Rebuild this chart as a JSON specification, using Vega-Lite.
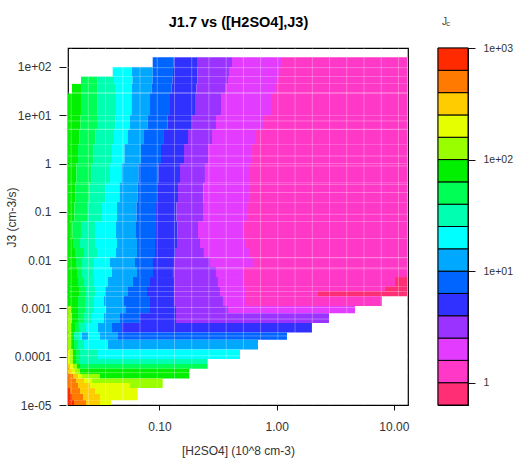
{
"$schema": "https://vega.github.io/schema/vega-lite/v6.json",
"background": "white",
"padding": {"left": 4, "top": 13, "right": 4, "bottom": 2},
"bounds": "flush",
"spacing": 30,
"config": {
 "view": {"stroke": "black", "strokeWidth": 1.2},
 "axis": {"labelFont": "Liberation Sans", "titleFont": "Liberation Sans", "labelColor": "#333", "titleColor": "#333", "tickColor": "#111", "domain": false, "grid": false, "labelFontSize": 12, "titleFontSize": 12, "titleFontWeight": "normal"}
},
"datasets": {
"cells": [
{"y0":100,"y1":158.5,"x0":0.0875,"x1":0.1316,"Jc":7.9},
{"y0":100,"y1":158.5,"x0":0.1316,"x1":0.2089,"Jc":5},
{"y0":100,"y1":158.5,"x0":0.2089,"x1":0.4156,"Jc":3.16},
{"y0":100,"y1":158.5,"x0":0.4156,"x1":1.11,"Jc":2},
{"y0":100,"y1":158.5,"x0":1.11,"x1":12.94,"Jc":1.26},
{"y0":63.1,"y1":100,"x0":0.03988,"x1":0.05825,"Jc":20},
{"y0":63.1,"y1":100,"x0":0.05825,"x1":0.0875,"Jc":12.6},
{"y0":63.1,"y1":100,"x0":0.0875,"x1":0.1303,"Jc":7.9},
{"y0":63.1,"y1":100,"x0":0.1303,"x1":0.211,"Jc":5},
{"y0":63.1,"y1":100,"x0":0.211,"x1":0.3918,"Jc":3.16},
{"y0":63.1,"y1":100,"x0":0.3918,"x1":1.046,"Jc":2},
{"y0":63.1,"y1":100,"x0":1.046,"x1":12.94,"Jc":1.26},
{"y0":44.67,"y1":63.1,"x0":0.02138,"x1":0.02958,"Jc":50},
{"y0":44.67,"y1":63.1,"x0":0.02958,"x1":0.04091,"Jc":31.6},
{"y0":44.67,"y1":63.1,"x0":0.04091,"x1":0.05882,"Jc":20},
{"y0":44.67,"y1":63.1,"x0":0.05882,"x1":0.08715,"Jc":12.6},
{"y0":44.67,"y1":63.1,"x0":0.08715,"x1":0.1291,"Jc":7.9},
{"y0":44.67,"y1":63.1,"x0":0.1291,"x1":0.211,"Jc":5},
{"y0":44.67,"y1":63.1,"x0":0.211,"x1":0.3841,"Jc":3.16},
{"y0":44.67,"y1":63.1,"x0":0.3841,"x1":1.006,"Jc":2},
{"y0":44.67,"y1":63.1,"x0":1.006,"x1":12.94,"Jc":1.26},
{"y0":28.18,"y1":44.67,"x0":0.01792,"x1":0.02138,"Jc":79},
{"y0":28.18,"y1":44.67,"x0":0.02138,"x1":0.02958,"Jc":50},
{"y0":28.18,"y1":44.67,"x0":0.02958,"x1":0.04172,"Jc":31.6},
{"y0":28.18,"y1":44.67,"x0":0.04172,"x1":0.05825,"Jc":20},
{"y0":28.18,"y1":44.67,"x0":0.05825,"x1":0.08544,"Jc":12.6},
{"y0":28.18,"y1":44.67,"x0":0.08544,"x1":0.1266,"Jc":7.9},
{"y0":28.18,"y1":44.67,"x0":0.1266,"x1":0.2069,"Jc":5},
{"y0":28.18,"y1":44.67,"x0":0.2069,"x1":0.3621,"Jc":3.16},
{"y0":28.18,"y1":44.67,"x0":0.3621,"x1":0.9863,"Jc":2},
{"y0":28.18,"y1":44.67,"x0":0.9863,"x1":12.94,"Jc":1.26},
{"y0":10,"y1":28.18,"x0":0.01657,"x1":0.02138,"Jc":79},
{"y0":10,"y1":28.18,"x0":0.02138,"x1":0.02958,"Jc":50},
{"y0":10,"y1":28.18,"x0":0.02958,"x1":0.04254,"Jc":31.6},
{"y0":10,"y1":28.18,"x0":0.04254,"x1":0.05767,"Jc":20},
{"y0":10,"y1":28.18,"x0":0.05767,"x1":0.08296,"Jc":12.6},
{"y0":10,"y1":28.18,"x0":0.08296,"x1":0.1229,"Jc":7.9},
{"y0":10,"y1":28.18,"x0":0.1229,"x1":0.2009,"Jc":5},
{"y0":10,"y1":28.18,"x0":0.2009,"x1":0.3347,"Jc":3.16},
{"y0":10,"y1":28.18,"x0":0.3347,"x1":0.9118,"Jc":2},
{"y0":10,"y1":28.18,"x0":0.9118,"x1":12.94,"Jc":1.26},
{"y0":5.012,"y1":10,"x0":0.01657,"x1":0.02118,"Jc":79},
{"y0":5.012,"y1":10,"x0":0.02118,"x1":0.02929,"Jc":50},
{"y0":5.012,"y1":10,"x0":0.02929,"x1":0.04213,"Jc":31.6},
{"y0":5.012,"y1":10,"x0":0.04213,"x1":0.056,"Jc":20},
{"y0":5.012,"y1":10,"x0":0.056,"x1":0.07899,"Jc":12.6},
{"y0":5.012,"y1":10,"x0":0.07899,"x1":0.117,"Jc":7.9},
{"y0":5.012,"y1":10,"x0":0.117,"x1":0.1894,"Jc":5},
{"y0":5.012,"y1":10,"x0":0.1894,"x1":0.3034,"Jc":3.16},
{"y0":5.012,"y1":10,"x0":0.3034,"x1":0.7641,"Jc":2},
{"y0":5.012,"y1":10,"x0":0.7641,"x1":12.94,"Jc":1.26},
{"y0":2.512,"y1":5.012,"x0":0.01657,"x1":0.02076,"Jc":79},
{"y0":2.512,"y1":5.012,"x0":0.02076,"x1":0.02844,"Jc":50},
{"y0":2.512,"y1":5.012,"x0":0.02844,"x1":0.04091,"Jc":31.6},
{"y0":2.512,"y1":5.012,"x0":0.04091,"x1":0.05333,"Jc":20},
{"y0":2.512,"y1":5.012,"x0":0.05333,"x1":0.07375,"Jc":12.6},
{"y0":2.512,"y1":5.012,"x0":0.07375,"x1":0.1092,"Jc":7.9},
{"y0":2.512,"y1":5.012,"x0":0.1092,"x1":0.1751,"Jc":5},
{"y0":2.512,"y1":5.012,"x0":0.1751,"x1":0.2805,"Jc":3.16},
{"y0":2.512,"y1":5.012,"x0":0.2805,"x1":0.6659,"Jc":2},
{"y0":2.512,"y1":5.012,"x0":0.6659,"x1":12.94,"Jc":1.26},
{"y0":1,"y1":2.512,"x0":0.01657,"x1":0.02017,"Jc":79},
{"y0":1,"y1":2.512,"x0":0.02017,"x1":0.02734,"Jc":50},
{"y0":1,"y1":2.512,"x0":0.02734,"x1":0.03933,"Jc":31.6},
{"y0":1,"y1":2.512,"x0":0.03933,"x1":0.05027,"Jc":20},
{"y0":1,"y1":2.512,"x0":0.05027,"x1":0.06953,"Jc":12.6},
{"y0":1,"y1":2.512,"x0":0.06953,"x1":0.103,"Jc":7.9},
{"y0":1,"y1":2.512,"x0":0.103,"x1":0.1618,"Jc":5},
{"y0":1,"y1":2.512,"x0":0.1618,"x1":0.2594,"Jc":3.16},
{"y0":1,"y1":2.512,"x0":0.2594,"x1":0.6154,"Jc":2},
{"y0":1,"y1":2.512,"x0":0.6154,"x1":12.94,"Jc":1.26},
{"y0":0.3981,"y1":1,"x0":0.01657,"x1":0.01958,"Jc":79},
{"y0":0.3981,"y1":1,"x0":0.01958,"x1":0.02629,"Jc":50},
{"y0":0.3981,"y1":1,"x0":0.02629,"x1":0.03781,"Jc":31.6},
{"y0":0.3981,"y1":1,"x0":0.03781,"x1":0.0474,"Jc":20},
{"y0":0.3981,"y1":1,"x0":0.0474,"x1":0.06619,"Jc":12.6},
{"y0":0.3981,"y1":1,"x0":0.06619,"x1":0.09806,"Jc":7.9},
{"y0":0.3981,"y1":1,"x0":0.09806,"x1":0.1496,"Jc":5},
{"y0":0.3981,"y1":1,"x0":0.1496,"x1":0.2444,"Jc":3.16},
{"y0":0.3981,"y1":1,"x0":0.2444,"x1":0.5917,"Jc":2},
{"y0":0.3981,"y1":1,"x0":0.5917,"x1":12.94,"Jc":1.26},
{"y0":0.1585,"y1":0.3981,"x0":0.01657,"x1":0.0192,"Jc":79},
{"y0":0.1585,"y1":0.3981,"x0":0.0192,"x1":0.02527,"Jc":50},
{"y0":0.1585,"y1":0.3981,"x0":0.02527,"x1":0.03496,"Jc":31.6},
{"y0":0.1585,"y1":0.3981,"x0":0.03496,"x1":0.04558,"Jc":20},
{"y0":0.1585,"y1":0.3981,"x0":0.04558,"x1":0.06516,"Jc":12.6},
{"y0":0.1585,"y1":0.3981,"x0":0.06516,"x1":0.09521,"Jc":7.9},
{"y0":0.1585,"y1":0.3981,"x0":0.09521,"x1":0.1439,"Jc":5},
{"y0":0.1585,"y1":0.3981,"x0":0.1439,"x1":0.2373,"Jc":3.16},
{"y0":0.1585,"y1":0.3981,"x0":0.2373,"x1":0.5802,"Jc":2},
{"y0":0.1585,"y1":0.3981,"x0":0.5802,"x1":12.94,"Jc":1.26},
{"y0":0.0631,"y1":0.1585,"x0":0.01657,"x1":0.01882,"Jc":79},
{"y0":0.0631,"y1":0.1585,"x0":0.01882,"x1":0.02406,"Jc":50},
{"y0":0.0631,"y1":0.1585,"x0":0.02406,"x1":0.03231,"Jc":31.6},
{"y0":0.0631,"y1":0.1585,"x0":0.03231,"x1":0.04339,"Jc":20},
{"y0":0.0631,"y1":0.1585,"x0":0.04339,"x1":0.06365,"Jc":12.6},
{"y0":0.0631,"y1":0.1585,"x0":0.06365,"x1":0.09336,"Jc":7.9},
{"y0":0.0631,"y1":0.1585,"x0":0.09336,"x1":0.1397,"Jc":5},
{"y0":0.0631,"y1":0.1585,"x0":0.1397,"x1":0.235,"Jc":3.16},
{"y0":0.0631,"y1":0.1585,"x0":0.235,"x1":0.5579,"Jc":2},
{"y0":0.0631,"y1":0.1585,"x0":0.5579,"x1":12.94,"Jc":1.26},
{"y0":0.02818,"y1":0.0631,"x0":0.01657,"x1":0.0181,"Jc":79},
{"y0":0.02818,"y1":0.0631,"x0":0.0181,"x1":0.02138,"Jc":50},
{"y0":0.02818,"y1":0.0631,"x0":0.02138,"x1":0.02816,"Jc":31.6},
{"y0":0.02818,"y1":0.0631,"x0":0.02816,"x1":0.04254,"Jc":20},
{"y0":0.02818,"y1":0.0631,"x0":0.04254,"x1":0.06303,"Jc":12.6},
{"y0":0.02818,"y1":0.0631,"x0":0.06303,"x1":0.09336,"Jc":7.9},
{"y0":0.02818,"y1":0.0631,"x0":0.09336,"x1":0.1425,"Jc":5},
{"y0":0.02818,"y1":0.0631,"x0":0.1425,"x1":0.2131,"Jc":3.16},
{"y0":0.02818,"y1":0.0631,"x0":0.2131,"x1":0.516,"Jc":2},
{"y0":0.02818,"y1":0.0631,"x0":0.516,"x1":12.94,"Jc":1.26},
{"y0":0.01778,"y1":0.02818,"x0":0.01657,"x1":0.01827,"Jc":79},
{"y0":0.01778,"y1":0.02818,"x0":0.01827,"x1":0.02097,"Jc":50},
{"y0":0.01778,"y1":0.02818,"x0":0.02097,"x1":0.02816,"Jc":31.6},
{"y0":0.01778,"y1":0.02818,"x0":0.02816,"x1":0.04339,"Jc":20},
{"y0":0.01778,"y1":0.02818,"x0":0.04339,"x1":0.06427,"Jc":12.6},
{"y0":0.01778,"y1":0.02818,"x0":0.06427,"x1":0.09154,"Jc":7.9},
{"y0":0.01778,"y1":0.02818,"x0":0.09154,"x1":0.1411,"Jc":5},
{"y0":0.01778,"y1":0.02818,"x0":0.1411,"x1":0.2216,"Jc":3.16},
{"y0":0.01778,"y1":0.02818,"x0":0.2216,"x1":0.547,"Jc":2},
{"y0":0.01778,"y1":0.02818,"x0":0.547,"x1":12.94,"Jc":1.26},
{"y0":0.01122,"y1":0.01778,"x0":0.01657,"x1":0.01901,"Jc":79},
{"y0":0.01122,"y1":0.01778,"x0":0.01901,"x1":0.02268,"Jc":50},
{"y0":0.01122,"y1":0.01778,"x0":0.02268,"x1":0.02929,"Jc":31.6},
{"y0":0.01122,"y1":0.01778,"x0":0.02929,"x1":0.04254,"Jc":20},
{"y0":0.01122,"y1":0.01778,"x0":0.04254,"x1":0.06427,"Jc":12.6},
{"y0":0.01122,"y1":0.01778,"x0":0.06427,"x1":0.09154,"Jc":7.9},
{"y0":0.01122,"y1":0.01778,"x0":0.09154,"x1":0.1356,"Jc":5},
{"y0":0.01122,"y1":0.01778,"x0":0.1356,"x1":0.2396,"Jc":3.16},
{"y0":0.01122,"y1":0.01778,"x0":0.2396,"x1":0.5917,"Jc":2},
{"y0":0.01122,"y1":0.01778,"x0":0.5917,"x1":12.94,"Jc":1.26},
{"y0":0.007079,"y1":0.01122,"x0":0.01657,"x1":0.01939,"Jc":79},
{"y0":0.007079,"y1":0.01122,"x0":0.01939,"x1":0.02181,"Jc":50},
{"y0":0.007079,"y1":0.01122,"x0":0.02181,"x1":0.02761,"Jc":31.6},
{"y0":0.007079,"y1":0.01122,"x0":0.02761,"x1":0.03781,"Jc":20},
{"y0":0.007079,"y1":0.01122,"x0":0.03781,"x1":0.0618,"Jc":12.6},
{"y0":0.007079,"y1":0.01122,"x0":0.0618,"x1":0.088,"Jc":7.9},
{"y0":0.007079,"y1":0.01122,"x0":0.088,"x1":0.1329,"Jc":5},
{"y0":0.007079,"y1":0.01122,"x0":0.1329,"x1":0.2697,"Jc":3.16},
{"y0":0.007079,"y1":0.01122,"x0":0.2697,"x1":0.6277,"Jc":2},
{"y0":0.007079,"y1":0.01122,"x0":0.6277,"x1":12.94,"Jc":1.26},
{"y0":0.004467,"y1":0.007079,"x0":0.01657,"x1":0.01977,"Jc":79},
{"y0":0.004467,"y1":0.007079,"x0":0.01977,"x1":0.02181,"Jc":50},
{"y0":0.004467,"y1":0.007079,"x0":0.02181,"x1":0.02707,"Jc":31.6},
{"y0":0.004467,"y1":0.007079,"x0":0.02707,"x1":0.03933,"Jc":20},
{"y0":0.004467,"y1":0.007079,"x0":0.03933,"x1":0.06427,"Jc":12.6},
{"y0":0.004467,"y1":0.007079,"x0":0.06427,"x1":0.088,"Jc":7.9},
{"y0":0.004467,"y1":0.007079,"x0":0.088,"x1":0.1303,"Jc":5},
{"y0":0.004467,"y1":0.007079,"x0":0.1303,"x1":0.3034,"Jc":3.16},
{"y0":0.004467,"y1":0.007079,"x0":0.3034,"x1":0.526,"Jc":2},
{"y0":0.004467,"y1":0.007079,"x0":0.526,"x1":12.94,"Jc":1.26},
{"y0":0.002818,"y1":0.004467,"x0":0.01657,"x1":0.02017,"Jc":79},
{"y0":0.002818,"y1":0.004467,"x0":0.02017,"x1":0.02268,"Jc":50},
{"y0":0.002818,"y1":0.004467,"x0":0.02268,"x1":0.02761,"Jc":31.6},
{"y0":0.002818,"y1":0.004467,"x0":0.02761,"x1":0.03636,"Jc":20},
{"y0":0.002818,"y1":0.004467,"x0":0.03636,"x1":0.0594,"Jc":12.6},
{"y0":0.002818,"y1":0.004467,"x0":0.0594,"x1":0.08296,"Jc":7.9},
{"y0":0.002818,"y1":0.004467,"x0":0.08296,"x1":0.1329,"Jc":5},
{"y0":0.002818,"y1":0.004467,"x0":0.1329,"x1":0.3155,"Jc":3.16},
{"y0":0.002818,"y1":0.004467,"x0":0.3155,"x1":0.516,"Jc":2},
{"y0":0.002818,"y1":0.004467,"x0":0.516,"x1":10.22,"Jc":1.26},
{"y0":0.002818,"y1":0.004467,"x0":10.22,"x1":12.94,"Jc":0.79},
{"y0":0.002249,"y1":0.002818,"x0":0.01657,"x1":0.02056,"Jc":79},
{"y0":0.002249,"y1":0.002818,"x0":0.02056,"x1":0.02359,"Jc":50},
{"y0":0.002249,"y1":0.002818,"x0":0.02359,"x1":0.02816,"Jc":31.6},
{"y0":0.002249,"y1":0.002818,"x0":0.02816,"x1":0.03428,"Jc":20},
{"y0":0.002249,"y1":0.002818,"x0":0.03428,"x1":0.05385,"Jc":12.6},
{"y0":0.002249,"y1":0.002818,"x0":0.05385,"x1":0.07822,"Jc":7.9},
{"y0":0.002249,"y1":0.002818,"x0":0.07822,"x1":0.1329,"Jc":5},
{"y0":0.002249,"y1":0.002818,"x0":0.1329,"x1":0.3282,"Jc":3.16},
{"y0":0.002249,"y1":0.002818,"x0":0.3282,"x1":0.5364,"Jc":2},
{"y0":0.002249,"y1":0.002818,"x0":0.5364,"x1":8.395,"Jc":1.26},
{"y0":0.002249,"y1":0.002818,"x0":8.395,"x1":12.94,"Jc":0.79},
{"y0":0.001778,"y1":0.002249,"x0":0.01657,"x1":0.02056,"Jc":79},
{"y0":0.001778,"y1":0.002249,"x0":0.02056,"x1":0.02359,"Jc":50},
{"y0":0.001778,"y1":0.002249,"x0":0.02359,"x1":0.02816,"Jc":31.6},
{"y0":0.001778,"y1":0.002249,"x0":0.02816,"x1":0.03428,"Jc":20},
{"y0":0.001778,"y1":0.002249,"x0":0.03428,"x1":0.05385,"Jc":12.6},
{"y0":0.001778,"y1":0.002249,"x0":0.05385,"x1":0.07822,"Jc":7.9},
{"y0":0.001778,"y1":0.002249,"x0":0.07822,"x1":0.1329,"Jc":5},
{"y0":0.001778,"y1":0.002249,"x0":0.1329,"x1":0.3282,"Jc":3.16},
{"y0":0.001778,"y1":0.002249,"x0":0.3282,"x1":0.5364,"Jc":2},
{"y0":0.001778,"y1":0.002249,"x0":0.5364,"x1":2.251,"Jc":1.26},
{"y0":0.001778,"y1":0.002249,"x0":2.251,"x1":12.94,"Jc":0.79},
{"y0":0.001122,"y1":0.001778,"x0":0.01657,"x1":0.02017,"Jc":79},
{"y0":0.001122,"y1":0.001778,"x0":0.02017,"x1":0.02313,"Jc":50},
{"y0":0.001122,"y1":0.001778,"x0":0.02313,"x1":0.02761,"Jc":31.6},
{"y0":0.001122,"y1":0.001778,"x0":0.02761,"x1":0.03361,"Jc":20},
{"y0":0.001122,"y1":0.001778,"x0":0.03361,"x1":0.04978,"Jc":12.6},
{"y0":0.001122,"y1":0.001778,"x0":0.04978,"x1":0.08296,"Jc":7.9},
{"y0":0.001122,"y1":0.001778,"x0":0.08296,"x1":0.1329,"Jc":5},
{"y0":0.001122,"y1":0.001778,"x0":0.1329,"x1":0.3481,"Jc":3.16},
{"y0":0.001122,"y1":0.001778,"x0":0.3481,"x1":0.5364,"Jc":2},
{"y0":0.001122,"y1":0.001778,"x0":0.5364,"x1":7.914,"Jc":1.26},
{"y0":0.0007943,"y1":0.001122,"x0":0.01657,"x1":0.01757,"Jc":126},
{"y0":0.0007943,"y1":0.001122,"x0":0.01757,"x1":0.02017,"Jc":79},
{"y0":0.0007943,"y1":0.001122,"x0":0.02017,"x1":0.02313,"Jc":50},
{"y0":0.0007943,"y1":0.001122,"x0":0.02313,"x1":0.02761,"Jc":31.6},
{"y0":0.0007943,"y1":0.001122,"x0":0.02761,"x1":0.03496,"Jc":20},
{"y0":0.0007943,"y1":0.001122,"x0":0.03496,"x1":0.05177,"Jc":12.6},
{"y0":0.0007943,"y1":0.001122,"x0":0.05177,"x1":0.08296,"Jc":7.9},
{"y0":0.0007943,"y1":0.001122,"x0":0.08296,"x1":0.1383,"Jc":5},
{"y0":0.0007943,"y1":0.001122,"x0":0.1383,"x1":0.3841,"Jc":3.16},
{"y0":0.0007943,"y1":0.001122,"x0":0.3841,"x1":4.658,"Jc":2},
{"y0":0.0005012,"y1":0.0007943,"x0":0.01657,"x1":0.01792,"Jc":126},
{"y0":0.0005012,"y1":0.0007943,"x0":0.01792,"x1":0.02017,"Jc":79},
{"y0":0.0005012,"y1":0.0007943,"x0":0.02017,"x1":0.02268,"Jc":50},
{"y0":0.0005012,"y1":0.0007943,"x0":0.02268,"x1":0.02654,"Jc":31.6},
{"y0":0.0005012,"y1":0.0007943,"x0":0.02654,"x1":0.03361,"Jc":20},
{"y0":0.0005012,"y1":0.0007943,"x0":0.03361,"x1":0.04603,"Jc":12.6},
{"y0":0.0005012,"y1":0.0007943,"x0":0.04603,"x1":0.06817,"Jc":7.9},
{"y0":0.0005012,"y1":0.0007943,"x0":0.06817,"x1":0.1383,"Jc":5},
{"y0":0.0005012,"y1":0.0007943,"x0":0.1383,"x1":2.794,"Jc":3.16},
{"y0":0.0003162,"y1":0.0005012,"x0":0.01657,"x1":0.01757,"Jc":126},
{"y0":0.0003162,"y1":0.0005012,"x0":0.01757,"x1":0.01901,"Jc":79},
{"y0":0.0003162,"y1":0.0005012,"x0":0.01901,"x1":0.02056,"Jc":50},
{"y0":0.0003162,"y1":0.0005012,"x0":0.02056,"x1":0.02359,"Jc":31.6},
{"y0":0.0003162,"y1":0.0005012,"x0":0.02359,"x1":0.02987,"Jc":20},
{"y0":0.0003162,"y1":0.0005012,"x0":0.02987,"x1":0.03933,"Jc":12.6},
{"y0":0.0003162,"y1":0.0005012,"x0":0.03933,"x1":0.04786,"Jc":7.9},
{"y0":0.0003162,"y1":0.0005012,"x0":0.04786,"x1":2.001,"Jc":5},
{"y0":0.0002239,"y1":0.0003162,"x0":0.01657,"x1":0.01757,"Jc":126},
{"y0":0.0002239,"y1":0.0003162,"x0":0.01757,"x1":0.01864,"Jc":79},
{"y0":0.0002239,"y1":0.0003162,"x0":0.01864,"x1":0.02056,"Jc":31.6},
{"y0":0.0002239,"y1":0.0003162,"x0":0.02056,"x1":0.02181,"Jc":20},
{"y0":0.0002239,"y1":0.0003162,"x0":0.02181,"x1":0.02454,"Jc":12.6},
{"y0":0.0002239,"y1":0.0003162,"x0":0.02454,"x1":0.03107,"Jc":20},
{"y0":0.0002239,"y1":0.0003162,"x0":0.03107,"x1":0.04425,"Jc":12.6},
{"y0":0.0002239,"y1":0.0003162,"x0":0.04425,"x1":1.224,"Jc":7.9},
{"y0":0.0001413,"y1":0.0002239,"x0":0.01657,"x1":0.01757,"Jc":126},
{"y0":0.0001413,"y1":0.0002239,"x0":0.01757,"x1":0.01864,"Jc":79},
{"y0":0.0001413,"y1":0.0002239,"x0":0.01864,"x1":0.02017,"Jc":50},
{"y0":0.0001413,"y1":0.0002239,"x0":0.02017,"x1":0.02268,"Jc":31.6},
{"y0":0.0001413,"y1":0.0002239,"x0":0.02268,"x1":0.03636,"Jc":20},
{"y0":0.0001413,"y1":0.0002239,"x0":0.03636,"x1":0.6924,"Jc":12.6},
{"y0":0.00008913,"y1":0.0001413,"x0":0.01657,"x1":0.01723,"Jc":200},
{"y0":0.00008913,"y1":0.0001413,"x0":0.01723,"x1":0.01827,"Jc":126},
{"y0":0.00008913,"y1":0.0001413,"x0":0.01827,"x1":0.01939,"Jc":79},
{"y0":0.00008913,"y1":0.0001413,"x0":0.01939,"x1":0.02097,"Jc":50},
{"y0":0.00008913,"y1":0.0001413,"x0":0.02097,"x1":0.02987,"Jc":31.6},
{"y0":0.00008913,"y1":0.0001413,"x0":0.02987,"x1":0.4863,"Jc":20},
{"y0":0.00007096,"y1":0.00008913,"x0":0.01657,"x1":0.01723,"Jc":200},
{"y0":0.00007096,"y1":0.00008913,"x0":0.01723,"x1":0.01827,"Jc":126},
{"y0":0.00007096,"y1":0.00008913,"x0":0.01827,"x1":0.01939,"Jc":79},
{"y0":0.00007096,"y1":0.00008913,"x0":0.01939,"x1":0.02056,"Jc":50},
{"y0":0.00007096,"y1":0.00008913,"x0":0.02056,"x1":0.2577,"Jc":31.6},
{"y0":0.00005623,"y1":0.00007096,"x0":0.01657,"x1":0.01723,"Jc":316},
{"y0":0.00005623,"y1":0.00007096,"x0":0.01723,"x1":0.01827,"Jc":200},
{"y0":0.00005623,"y1":0.00007096,"x0":0.01827,"x1":0.01977,"Jc":126},
{"y0":0.00005623,"y1":0.00007096,"x0":0.01977,"x1":0.02097,"Jc":79},
{"y0":0.00005623,"y1":0.00007096,"x0":0.02097,"x1":0.2577,"Jc":50},
{"y0":0.00004406,"y1":0.00005623,"x0":0.01657,"x1":0.01792,"Jc":316},
{"y0":0.00004406,"y1":0.00005623,"x0":0.01792,"x1":0.01901,"Jc":200},
{"y0":0.00004406,"y1":0.00005623,"x0":0.01901,"x1":0.02097,"Jc":126},
{"y0":0.00004406,"y1":0.00005623,"x0":0.02097,"x1":0.1796,"Jc":79},
{"y0":0.00003548,"y1":0.00004406,"x0":0.01657,"x1":0.01827,"Jc":500},
{"y0":0.00003548,"y1":0.00004406,"x0":0.01827,"x1":0.02017,"Jc":316},
{"y0":0.00003548,"y1":0.00004406,"x0":0.02017,"x1":0.02181,"Jc":200},
{"y0":0.00003548,"y1":0.00004406,"x0":0.02181,"x1":0.03107,"Jc":126},
{"y0":0.00003548,"y1":0.00004406,"x0":0.03107,"x1":0.1796,"Jc":79},
{"y0":0.0000287,"y1":0.00003548,"x0":0.01657,"x1":0.01939,"Jc":500},
{"y0":0.0000287,"y1":0.00003548,"x0":0.01939,"x1":0.02268,"Jc":316},
{"y0":0.0000287,"y1":0.00003548,"x0":0.02268,"x1":0.02654,"Jc":200},
{"y0":0.0000287,"y1":0.00003548,"x0":0.02654,"x1":0.1065,"Jc":126},
{"y0":0.00002239,"y1":0.0000287,"x0":0.01657,"x1":0.02017,"Jc":500},
{"y0":0.00002239,"y1":0.0000287,"x0":0.02017,"x1":0.02552,"Jc":316},
{"y0":0.00002239,"y1":0.0000287,"x0":0.02552,"x1":0.056,"Jc":200},
{"y0":0.00002239,"y1":0.0000287,"x0":0.056,"x1":0.1065,"Jc":126},
{"y0":0.00001698,"y1":0.00002239,"x0":0.01657,"x1":0.01723,"Jc":790},
{"y0":0.00001698,"y1":0.00002239,"x0":0.01723,"x1":0.02097,"Jc":500},
{"y0":0.00001698,"y1":0.00002239,"x0":0.02097,"x1":0.02816,"Jc":316},
{"y0":0.00001698,"y1":0.00002239,"x0":0.02816,"x1":0.06516,"Jc":200},
{"y0":0.00001259,"y1":0.00001698,"x0":0.01657,"x1":0.01792,"Jc":790},
{"y0":0.00001259,"y1":0.00001698,"x0":0.01792,"x1":0.02225,"Jc":500},
{"y0":0.00001259,"y1":0.00001698,"x0":0.02225,"x1":0.03107,"Jc":316},
{"y0":0.00001259,"y1":0.00001698,"x0":0.03107,"x1":0.06516,"Jc":200},
{"y0":0.00001,"y1":0.00001259,"x0":0.01657,"x1":0.01864,"Jc":790},
{"y0":0.00001,"y1":0.00001259,"x0":0.01864,"x1":0.02359,"Jc":500},
{"y0":0.00001,"y1":0.00001259,"x0":0.02359,"x1":0.03107,"Jc":316},
{"y0":0.00001,"y1":0.00001259,"x0":0.03107,"x1":0.03857,"Jc":200}
],
"vlines": [
{"x0":0.01762},{"x0":0.02472},{"x0":0.03467},{"x0":0.04864},{"x0":0.06823},{"x0":0.09572},{"x0":0.1343},{"x0":0.1884},{"x0":0.2642},{"x0":0.3707},{"x0":0.52},{"x0":0.7295},{"x0":1.023},{"x0":1.435},{"x0":2.014},{"x0":2.825},{"x0":3.963},{"x0":5.559},{"x0":7.798},{"x0":10.94}
],
"hlines": [
{"y0":96.8},{"y0":29.38},{"y0":7.621},{"y0":5.129},{"y0":1.435},{"y0":0.8913},{"y0":0.3715},{"y0":0.2512},{"y0":0.08913},{"y0":0.01122},{"y0":0.006607},{"y0":0.001047},{"y0":0.0006026},{"y0":0.0002692},{"y0":0.0001047},{"y0":0.00004677}
],
"key": [
{"lo":0.631,"hi":1,"Jc":0.79},
{"lo":1,"hi":1.585,"Jc":1.26},
{"lo":1.585,"hi":2.512,"Jc":2},
{"lo":2.512,"hi":3.981,"Jc":3.16},
{"lo":3.981,"hi":6.31,"Jc":5},
{"lo":6.31,"hi":10,"Jc":7.9},
{"lo":10,"hi":15.85,"Jc":12.6},
{"lo":15.85,"hi":25.12,"Jc":20},
{"lo":25.12,"hi":39.81,"Jc":31.6},
{"lo":39.81,"hi":63.1,"Jc":50},
{"lo":63.1,"hi":100,"Jc":79},
{"lo":100,"hi":158.5,"Jc":126},
{"lo":158.5,"hi":251.2,"Jc":200},
{"lo":251.2,"hi":398.1,"Jc":316},
{"lo":398.1,"hi":631,"Jc":500},
{"lo":631,"hi":1000,"Jc":790}
]
},
"hconcat": [
{
 "width": 340,
 "height": 357,
 "resolve": {"axis": {"x": "independent"}},
 "layer": [
  {
   "data": {"name": "cells"},
   "mark": {"type": "rect"},
   "encoding": {
    "x": {"field": "x0", "type": "quantitative", "scale": {"type": "log", "domain": [0.01657, 13.2], "nice": false},
          "axis": {"values": [0.1, 1, 10], "labelExpr": "datum.value < 0.5 ? '0.10' : (datum.value < 5 ? '1.00' : '10.00')", "tickSize": 5, "labelPadding": 11, "title": "[H2SO4] (10^8 cm-3)", "titlePadding": 13}},
    "x2": {"field": "x1"},
    "y": {"field": "y0", "type": "quantitative", "scale": {"type": "log", "domain": [0.00001, 247], "nice": false},
          "axis": {"values": [0.00001, 0.0001, 0.001, 0.01, 0.1, 1, 10, 100], "labelExpr": "datum.value < 0.00005 ? '1e-05' : datum.value < 0.0005 ? '0.0001' : datum.value < 0.005 ? '0.001' : datum.value < 0.05 ? '0.01' : datum.value < 0.5 ? '0.1' : datum.value < 5 ? '1' : datum.value < 50 ? '1e+01' : '1e+02'", "tickSize": 7, "offset": 2, "labelPadding": 8, "title": "J3 (cm-3/s)", "titleX": -48, "titleY": 169, "titleAlign": "center", "titleAngle": 270, "titleBaseline": "bottom"}},
    "y2": {"field": "y1"},
    "color": {"field": "Jc", "type": "quantitative",
     "scale": {"type": "threshold", "domain": [1, 1.585, 2.512, 3.981, 6.31, 10, 15.85, 25.12, 39.81, 63.1, 100, 158.5, 251.2, 398.1, 631],
       "range": ["#FF2E75", "#FF38C8", "#E33BFF", "#9A33FF", "#3030FF", "#0064FF", "#00A8FF", "#00FFFF", "#00FFB0", "#00FF55", "#00F000", "#99FF00", "#E6FF00", "#FFCC00", "#FF7A00", "#FF2A00"]},
     "legend": null}
   }
  },
  {
   "data": {"name": "vlines"},
   "mark": {"type": "rule", "color": "white", "opacity": 0.3, "strokeWidth": 1},
   "encoding": {
    "x": {"field": "x0", "type": "quantitative", "scale": {"type": "log", "domain": [0.01657, 13.2], "nice": false},
          "axis": {"orient": "top", "labels": false, "ticks": false, "domain": false, "grid": false, "title": "J1.7 vs ([H2SO4],J3)", "titleFontSize": 14.5, "titleFontWeight": "bold", "titleColor": "black", "titleX": 170, "titleY": -22, "titleAlign": "center", "titleBaseline": "alphabetic", "titleAngle": 0}}
   }
  },
  {
   "data": {"name": "hlines"},
   "mark": {"type": "rule", "color": "white", "opacity": 0.3, "strokeWidth": 1},
   "encoding": {
    "y": {"field": "y0", "type": "quantitative"}
   }
  }
 ]
},
{
 "width": 30,
 "height": 357,
 "data": {"name": "key"},
 "mark": {"type": "rect", "stroke": "black", "strokeWidth": 1},
 "encoding": {
  "x": {"datum": 0, "type": "quantitative", "scale": {"domain": [0, 1]},
        "axis": {"orient": "top", "values": [0.32], "labelExpr": "'c'", "ticks": false, "tickSize": 0, "domain": false, "grid": false, "labelPadding": 21, "labelFontSize": 7.5, "labelColor": "#444", "title": "J", "titleFontSize": 10, "titleColor": "#444", "titleX": 3.5, "titleY": -24, "titleAlign": "left", "titleBaseline": "alphabetic", "titleAngle": 0}},
  "x2": {"datum": 1},
  "y": {"field": "lo", "type": "quantitative", "scale": {"type": "log", "domain": [0.631, 1000], "nice": false},
        "axis": {"orient": "right", "values": [1, 10, 100, 1000], "labelExpr": "datum.value < 5 ? '1' : datum.value < 50 ? '1e+01' : datum.value < 500 ? '1e+02' : '1e+03'", "tickSize": 7, "labelPadding": 8, "labelFontSize": 10.5, "title": null}},
  "y2": {"field": "hi"},
  "color": {"field": "Jc", "type": "quantitative",
   "scale": {"type": "threshold", "domain": [1, 1.585, 2.512, 3.981, 6.31, 10, 15.85, 25.12, 39.81, 63.1, 100, 158.5, 251.2, 398.1, 631],
     "range": ["#FF2E75", "#FF38C8", "#E33BFF", "#9A33FF", "#3030FF", "#0064FF", "#00A8FF", "#00FFFF", "#00FFB0", "#00FF55", "#00F000", "#99FF00", "#E6FF00", "#FFCC00", "#FF7A00", "#FF2A00"]},
   "legend": null}
 }
}
]
}
